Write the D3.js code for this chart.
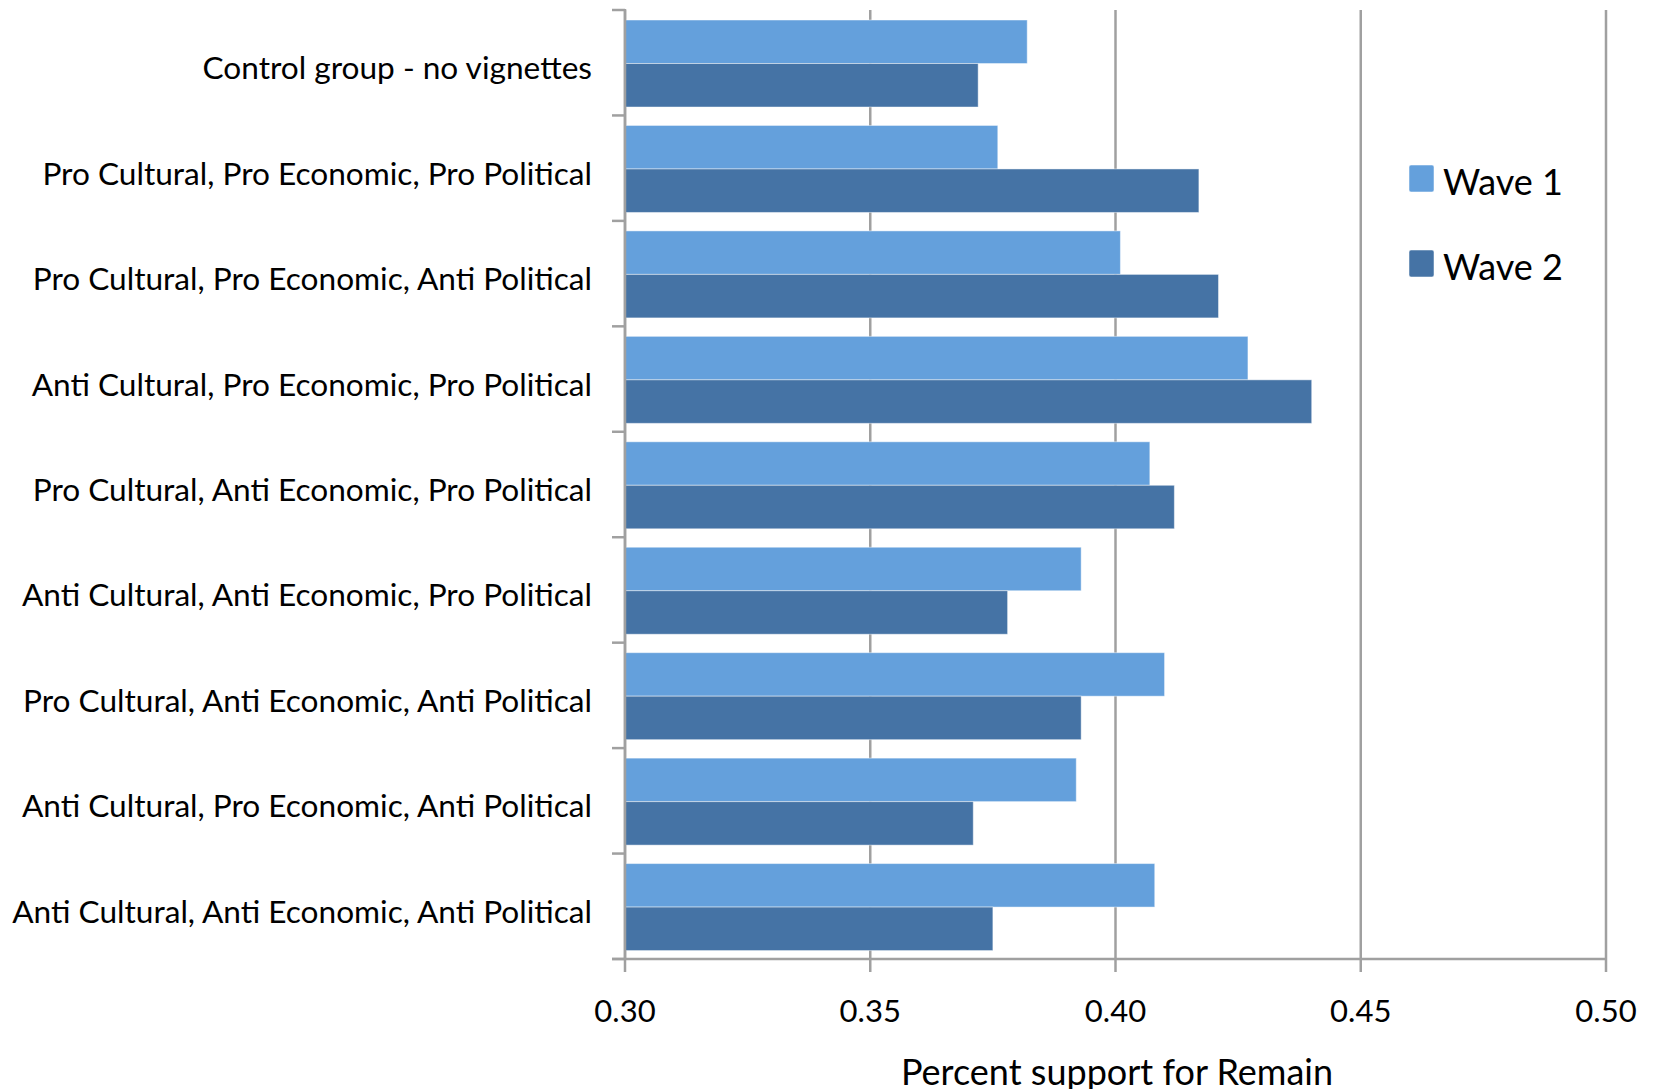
<!DOCTYPE html>
<html>
<head>
<meta charset="utf-8">
<script src="https://cdn.jsdelivr.net/npm/d3@7"></script>
<style>
  html, body { margin: 0; padding: 0; background: #fff; }
  svg { display: block; font-family: Lato, "Open Sans", sans-serif; }
</style>
</head>
<body>
<svg id="chart" width="1654" height="1089"></svg>
<script>
// Support for Remain by vignette condition, two survey waves
const categories = [
  "Control group - no vignettes",
  "Pro Cultural, Pro Economic, Pro Political",
  "Pro Cultural, Pro Economic, Anti Political",
  "Anti Cultural, Pro Economic, Pro Political",
  "Pro Cultural, Anti Economic, Pro Political",
  "Anti Cultural, Anti Economic, Pro Political",
  "Pro Cultural, Anti Economic, Anti Political",
  "Anti Cultural, Pro Economic, Anti Political",
  "Anti Cultural, Anti Economic, Anti Political"
];
const seriesNames = ["Wave 1", "Wave 2"];
const wave1 = [0.382, 0.376, 0.401, 0.427, 0.407, 0.393, 0.410, 0.392, 0.408];
const wave2 = [0.372, 0.417, 0.421, 0.440, 0.412, 0.378, 0.393, 0.371, 0.375];
const xTicks = [0.30, 0.35, 0.40, 0.45, 0.50];
const xDomain = [0.30, 0.50];
const xTitle = "Percent support for Remain";

const colors = { "Wave 1": "#64a0dc", "Wave 2": "#4573a5" };
const gridColor = "#a0a0a0";

const svg = d3.select("#chart");
const plot = { left: 625, right: 1606, top: 10, bottom: 959 };

const x = d3.scaleLinear().domain(xDomain).range([plot.left, plot.right]);
const y = d3.scaleBand().domain(categories).range([plot.top, plot.bottom]).padding(0);
const bw = y.bandwidth();
const yInner = d3.scaleBand().domain(seriesNames).range([bw * 0.095, bw * 0.92]).padding(0);

// vertical gridlines, extended below the axis as tick marks
svg.append("g").selectAll("line").data(xTicks).join("line")
  .attr("x1", d => x(d)).attr("x2", d => x(d))
  .attr("y1", plot.top).attr("y2", plot.bottom + 13)
  .attr("stroke", gridColor).attr("stroke-width", 2.5);

// bars
const rows = categories.map((c, i) => ({ c, values: [
  { s: "Wave 1", v: wave1[i] }, { s: "Wave 2", v: wave2[i] } ] }));

const groups = svg.append("g").selectAll("g").data(rows).join("g")
  .attr("transform", d => `translate(0,${y(d.c)})`);
groups.selectAll("rect").data(d => d.values).join("rect")
  .attr("x", x(xDomain[0]))
  .attr("y", d => yInner(d.s))
  .attr("width", d => x(d.v) - x(xDomain[0]))
  .attr("height", yInner.bandwidth())
  .attr("fill", d => colors[d.s])
  .attr("stroke", "rgba(255,255,255,0.45)")
  .attr("stroke-width", 1);

// left axis line and category ticks
svg.append("line")
  .attr("x1", plot.left).attr("x2", plot.left)
  .attr("y1", plot.top - 1).attr("y2", plot.bottom + 1)
  .attr("stroke", gridColor).attr("stroke-width", 2.5);
const boundaries = categories.map(c => y(c)).concat([plot.bottom]);
svg.append("g").selectAll("line").data(boundaries).join("line")
  .attr("x1", plot.left - 13).attr("x2", plot.left)
  .attr("y1", d => d).attr("y2", d => d)
  .attr("stroke", gridColor).attr("stroke-width", 2.5);
// bottom axis line
svg.append("line")
  .attr("x1", plot.left - 13).attr("x2", plot.right + 1)
  .attr("y1", plot.bottom).attr("y2", plot.bottom)
  .attr("stroke", gridColor).attr("stroke-width", 2.5);

// category labels
svg.append("g").selectAll("text").data(categories).join("text")
  .attr("x", 592)
  .attr("y", d => y(d) + bw / 2 + 16.5)
  .attr("text-anchor", "end")
  .attr("font-size", 31.6)
  .attr("fill", "#000")
  .text(d => d);

// x tick labels
svg.append("g").selectAll("text").data(xTicks).join("text")
  .attr("x", d => x(d))
  .attr("y", 1021.5)
  .attr("text-anchor", "middle")
  .attr("font-size", 31)
  .attr("fill", "#000")
  .text(d => d3.format(".2f")(d));

// x axis title (sits at the bottom edge of the page)
svg.append("text")
  .attr("x", 1117).attr("y", 1085)
  .attr("text-anchor", "middle")
  .attr("font-size", 36)
  .attr("fill", "#000")
  .text(xTitle);

// legend
const legend = svg.append("g").selectAll("g").data(seriesNames).join("g")
  .attr("transform", (d, i) => `translate(1409,${165 + i * 85})`);
legend.append("rect")
  .attr("width", 25).attr("height", 27).attr("rx", 2)
  .attr("fill", d => colors[d])
  .attr("stroke", "rgba(255,255,255,0.5)").attr("stroke-width", 1);
legend.append("text")
  .attr("x", 34).attr("y", 30)
  .attr("font-size", 36)
  .attr("fill", "#000")
  .text(d => d);
</script>
</body>
</html>
